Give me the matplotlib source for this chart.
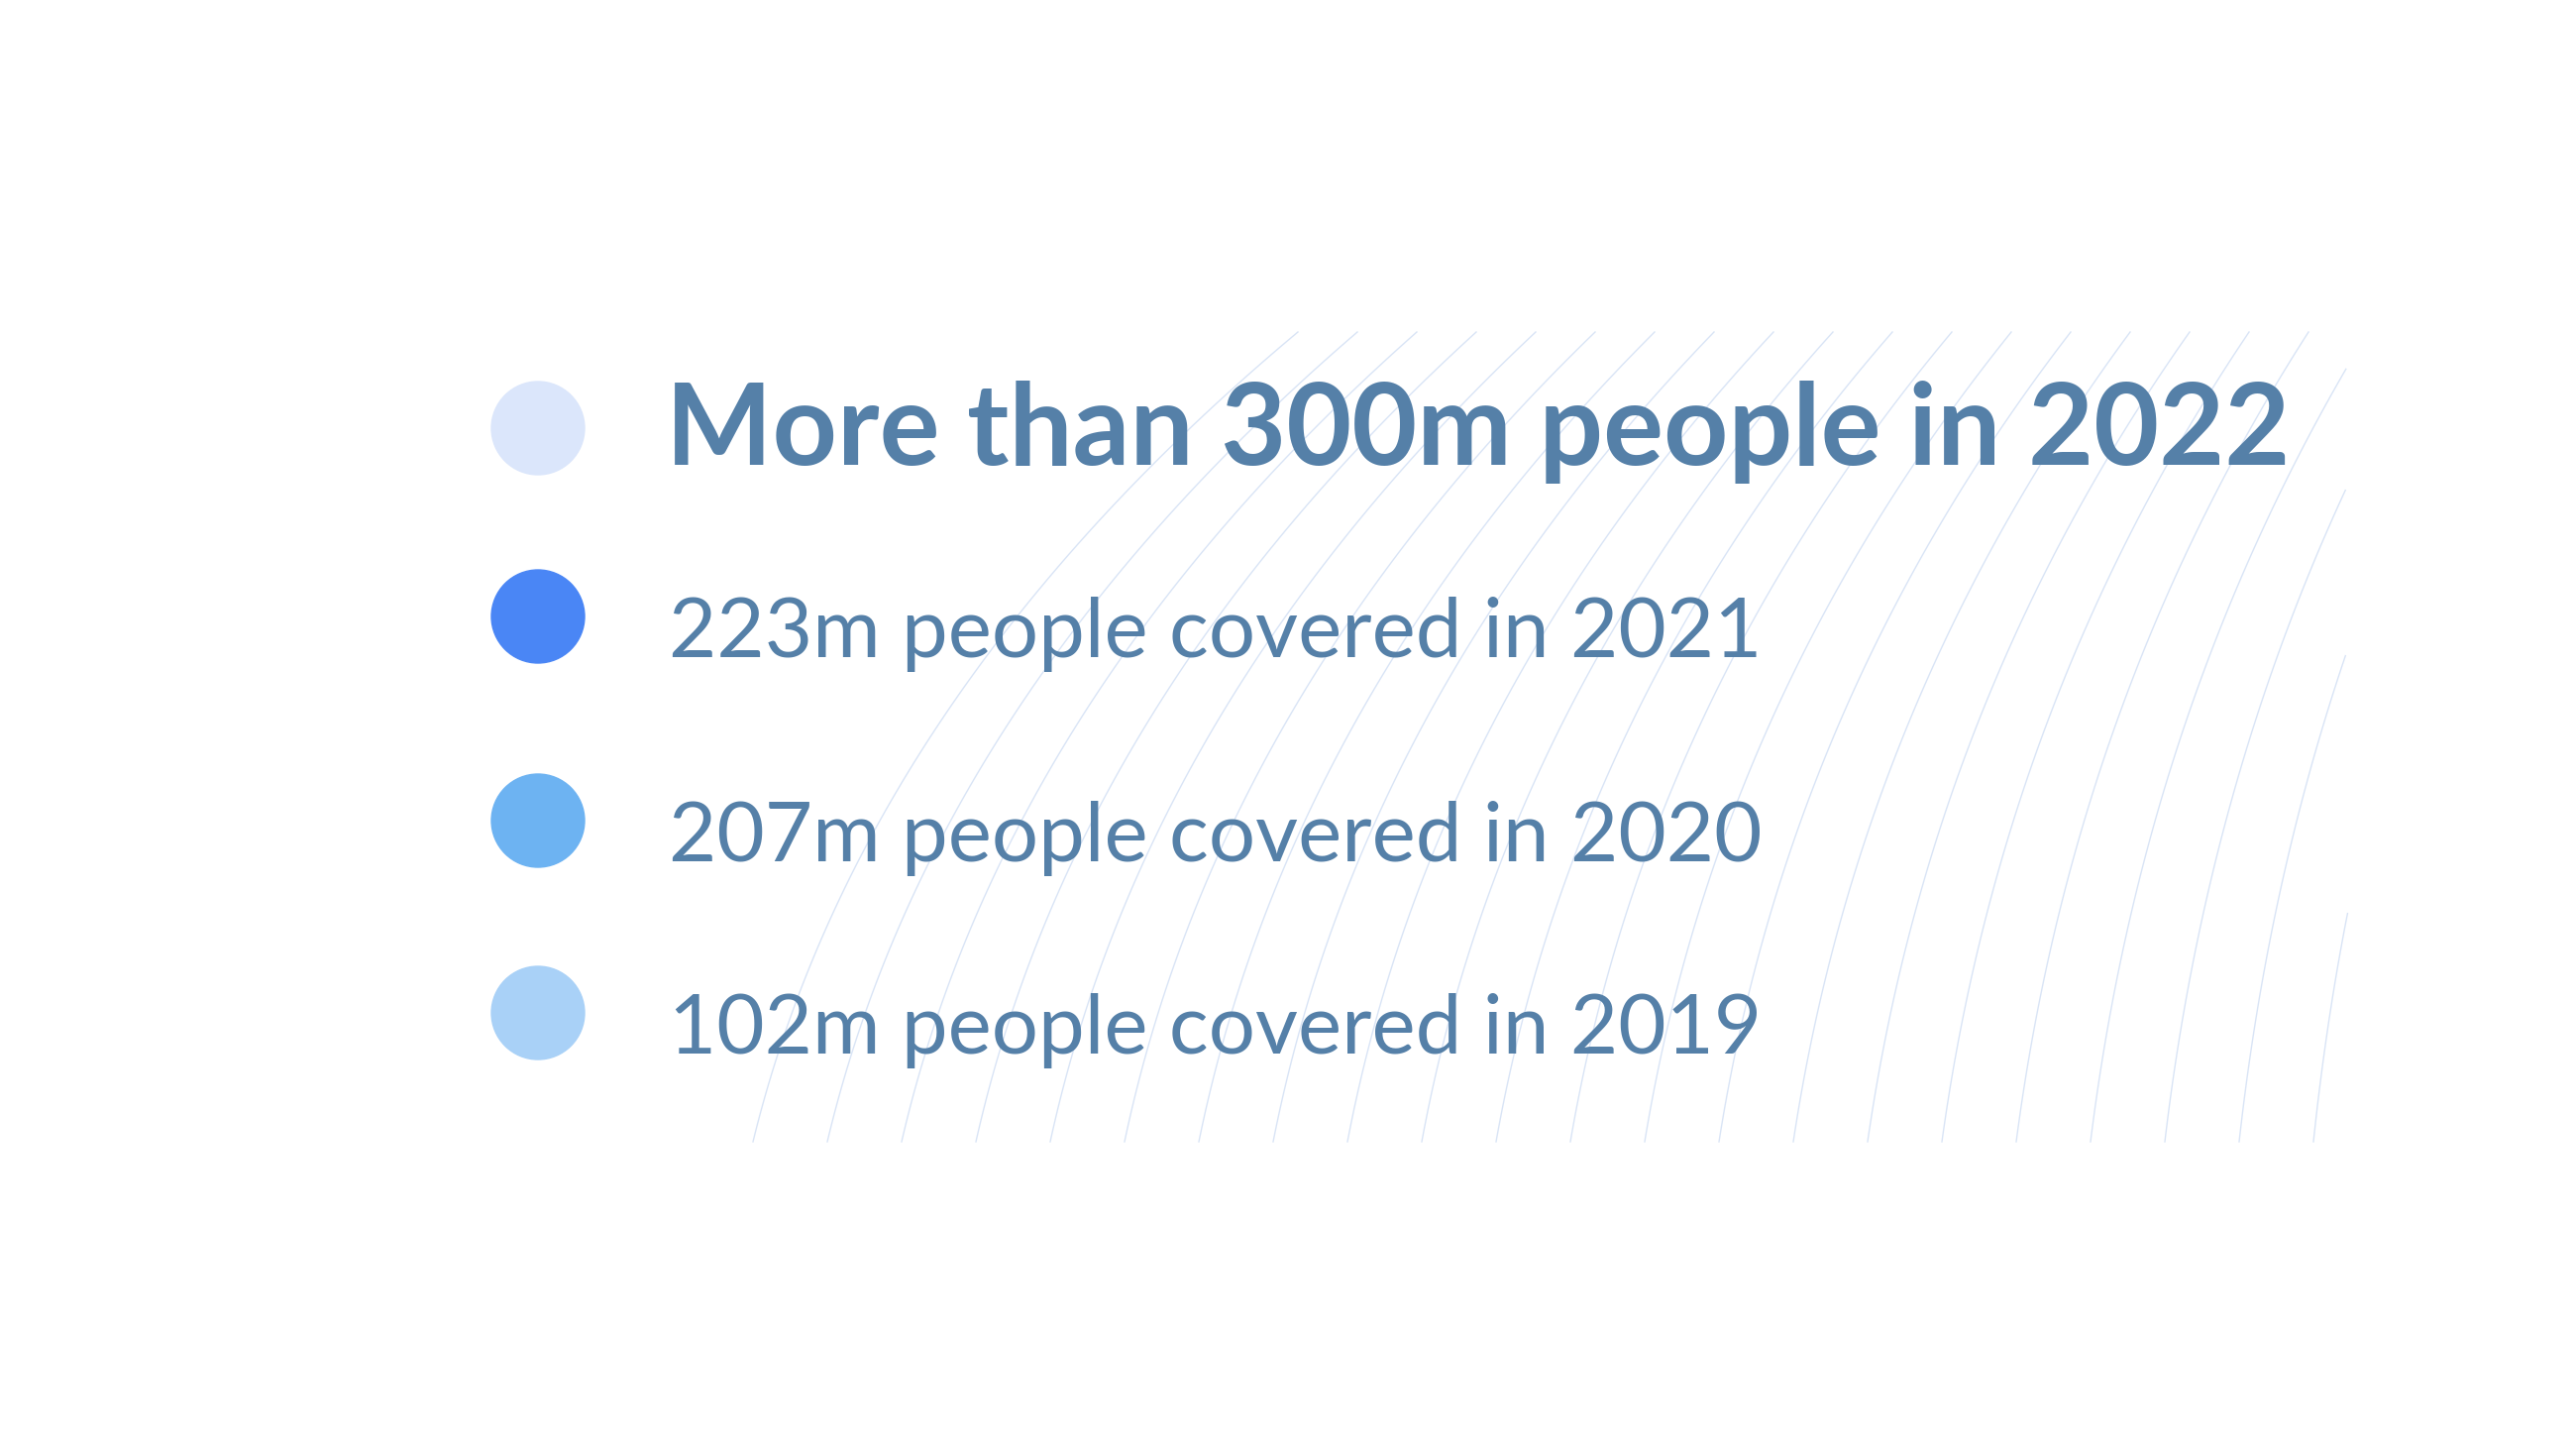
import numpy as np
import matplotlib.pyplot as plt
from matplotlib.patches import Ellipse

# Legend-like list
labels = ["More than 300m people in 2022",
          "223m people covered in 2021",
          "207m people covered in 2020",
          "102m people covered in 2019"]
dot_colors = ["#dbe6fb", "#4a86f5", "#6db3f2", "#a9d1f7"]
row_y = [432, 622, 828, 1022]
text_color = "#5580a8"

fig = plt.figure(figsize=(26, 14.62), dpi=100)
ax = fig.add_axes([0, 0, 1, 1])
ax.set_xlim(0, 2600)
ax.set_ylim(1462, 0)
ax.axis("off")

# faint background curves (decoration)
t = np.linspace(0, 1, 100)
for i in range(22):
    x0 = 760 + i * 75
    y0 = 1152
    x1 = 1310 + i * 60
    y1 = 335
    cx = x0 + (x1 - x0) * 0.2
    cy = y0 - (y0 - y1) * 0.55
    xs = (1 - t) ** 2 * x0 + 2 * (1 - t) * t * cx + t ** 2 * x1
    ys = (1 - t) ** 2 * y0 + 2 * (1 - t) * t * cy + t ** 2 * y1
    m = (xs <= 2370) & (ys >= 335) & (ys <= 1152)
    ax.plot(xs[m], ys[m], color="#c9d9f2", lw=1.0, alpha=0.7, zorder=0)

for lab, col, y, i in zip(labels, dot_colors, row_y, range(4)):
    ax.add_patch(Ellipse((543, y), 94, 94, color=col, zorder=2))
    if i == 0:
        ax.text(672, y + 4, lab, fontsize=82, fontweight="bold", family="Lato",
                color=text_color, va="center", ha="left", zorder=3)
    else:
        ax.text(675, y + 18, lab, fontsize=60, family="Lato",
                color=text_color, va="center", ha="left", zorder=3)

fig.savefig("out.png", dpi=100, facecolor="white")
